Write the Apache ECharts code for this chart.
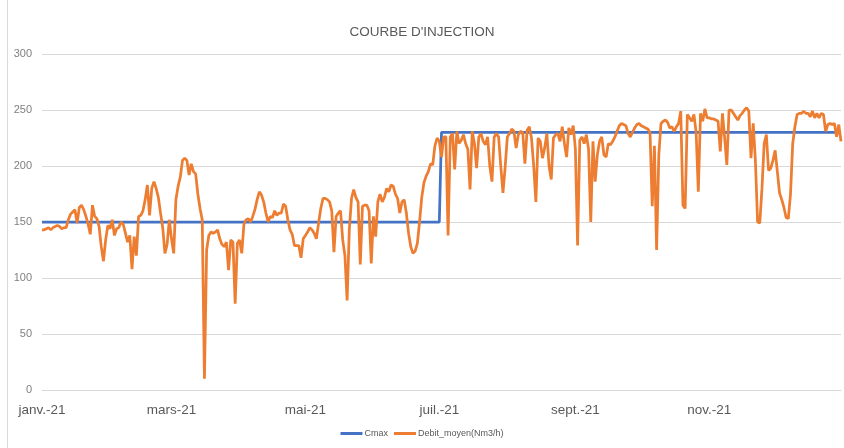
<!DOCTYPE html>
<html>
<head>
<meta charset="utf-8">
<script src="https://cdn.jsdelivr.net/npm/echarts@6/dist/echarts.min.js"></script>
<style>
  html, body { margin: 0; padding: 0; background: #fff; }
  #chart { width: 844px; height: 448px; }
  #frame { position: absolute; left: 7px; top: 0; width: 837px; height: 448px; border-left: 1px solid #d9d9d9; box-sizing: border-box; pointer-events: none; }
</style>
</head>
<body>
<div id="chart"></div>
<div id="frame"></div>
<script>
// courbe d'injection 2021 - debit journalier et Cmax

var titre = "COURBE D'INJECTION";
var annee = 2021;

// libelles affiches sur l'axe (mois impairs)
var moisLabels = { 0: "janv.-21", 2: "mars-21", 4: "mai-21", 6: "juil.-21", 8: "sept.-21", 10: "nov.-21" };

// Cmax : palier par date de debut
var cmaxPaliers = [
  ["2021-01-01", 150],
  ["2021-07-02", 230]
];

// Debit_moyen(Nm3/h), une valeur par jour
var janv = [143,143,144,145,143,145,146,147,146,144,145,145,152,157,159,161,149,163,165,161,155,148,139,165,155,153,146,128,115,134,147];
var fevr = [144,152,138,144,145,150,148,140,132,138,108,137,120,155,156,160,170,183,156,180,186,180,172,158,145,122,130,152];
var mars = [135,122,170,182,190,205,207,205,192,202,195,193,175,162,152,10,125,138,141,140,141,143,135,130,128,132,107,134,132,77,131];
var avr  = [134,122,148,152,153,150,155,161,170,177,174,168,158,150,155,154,160,156,158,158,166,164,152,143,139,129,129,129,118,135];
var mai  = [138,141,145,143,140,135,149,162,171,171,170,168,160,123,155,158,160,134,120,80,143,171,179,172,168,112,164,165,165,160,113];
var juin = [155,137,168,175,168,172,180,177,183,182,175,171,158,168,170,158,140,128,122,124,131,150,172,185,191,195,202,201,218,225];
var juil = [222,208,226,226,138,226,229,197,231,220,223,228,220,215,179,231,220,198,226,229,222,219,226,200,186,226,229,226,200,176,199];
var aout = [226,229,233,231,216,228,231,230,202,232,235,225,200,168,225,222,207,216,229,200,188,225,228,229,222,235,220,208,234,228,236];
var sept = [215,129,223,226,220,228,215,150,222,186,210,222,226,210,208,220,219,222,226,231,236,238,237,236,229,226,230,234,237,238];
var oct  = [236,235,234,233,230,164,218,125,210,238,240,241,239,234,235,231,235,238,249,165,162,246,243,240,246,230,177,247,240,251,243];
var nov  = [243,242,242,241,240,213,247,225,201,250,250,247,244,241,245,247,250,252,249,207,238,205,150,149,180,220,228,196,198,205];
var dec  = [214,195,176,170,163,154,153,175,220,235,246,247,247,249,247,247,244,249,243,247,243,247,246,231,237,238,237,238,226,237,222];

var debit = [].concat(janv, fevr, mars, avr, mai, juin, juil, aout, sept, oct, nov, dec);

function pad(n) { return n < 10 ? "0" + n : "" + n; }

// une categorie par jour de l'annee
var jours = [];
for (var i = 0; i < debit.length; i++) {
  var d = new Date(Date.UTC(annee, 0, 1 + i));
  jours.push(d.getUTCFullYear() + "-" + pad(d.getUTCMonth() + 1) + "-" + pad(d.getUTCDate()));
}

// Cmax jour par jour a partir des paliers
var cmax = jours.map(function(j) {
  var v = null;
  cmaxPaliers.forEach(function(p) {
    if (j >= p[0]) v = p[1];
  });
  return v;
});

var police = "'Liberation Sans Narrow', 'Liberation Sans', sans-serif";
var gris = "#595959";

var option = {
  animation: false,
  textStyle: { fontFamily: police },
  title: {
    text: titre,
    left: "center",
    top: 20,
    textStyle: { fontFamily: police, fontSize: 13.5, fontWeight: "normal", color: gris }
  },
  legend: {
    bottom: 5,
    left: "center",
    icon: "rect",
    itemWidth: 22,
    itemHeight: 3,
    itemGap: 6,
    textStyle: { fontFamily: police, fontSize: 9, color: gris, padding: [0, 0, 0, -3] },
    data: ["Cmax", "Debit_moyen(Nm3/h)"]
  },
  grid: {
    left: 42,
    right: 3,
    top: 54,
    bottom: 58
  },
  xAxis: {
    type: "category",
    boundaryGap: false,
    data: jours,
    axisLine: { lineStyle: { color: "#d9d9d9" } },
    axisTick: { show: false },
    splitLine: { show: false },
    axisLabel: {
      color: gris,
      fontSize: 13.5,
      margin: 13,
      interval: function(idx, val) {
        var m = parseInt(val.slice(5, 7), 10) - 1;
        return val.slice(8) === "01" && moisLabels[m] !== undefined;
      },
      formatter: function(val) {
        var m = parseInt(val.slice(5, 7), 10) - 1;
        return moisLabels[m] || "";
      }
    }
  },
  yAxis: {
    type: "value",
    min: 0,
    max: 300,
    interval: 50,
    axisLine: { show: false },
    axisTick: { show: false },
    splitLine: { lineStyle: { color: "#d9d9d9", width: 1 } },
    axisLabel: { color: "#7f7f7f", fontSize: 11, margin: 10 }
  },
  series: [
    {
      name: "Cmax",
      type: "line",
      data: cmax,
      showSymbol: false,
      symbol: "none",
      lineStyle: { color: "#4472c4", width: 2.75 },
      itemStyle: { color: "#4472c4" },
      z: 2
    },
    {
      name: "Debit_moyen(Nm3/h)",
      type: "line",
      data: debit,
      showSymbol: false,
      symbol: "none",
      lineStyle: { color: "#ed7d31", width: 2.75 },
      itemStyle: { color: "#ed7d31" },
      z: 3
    }
  ]
};

var chart = echarts.init(document.getElementById("chart"), null, { renderer: "canvas" });
chart.setOption(option);
</script>
</body>
</html>
